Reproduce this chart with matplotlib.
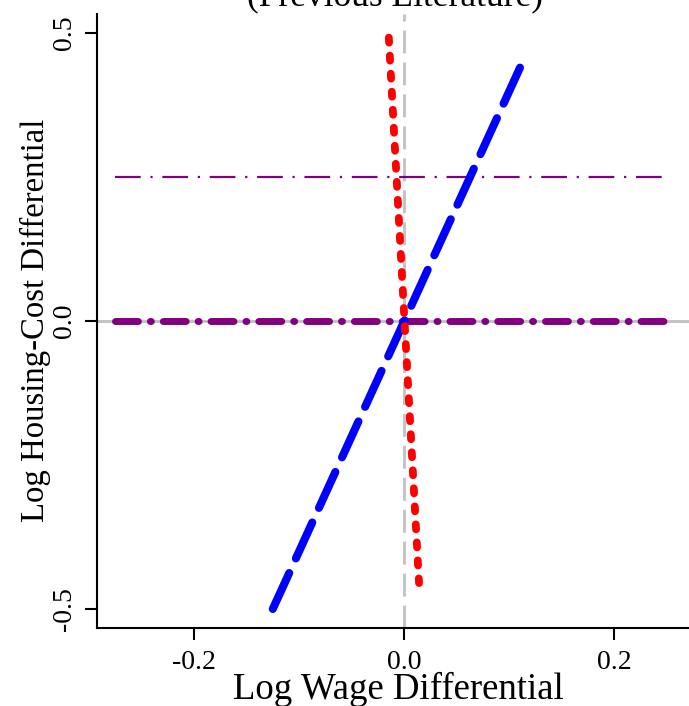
import matplotlib
matplotlib.use("Agg")
import matplotlib.pyplot as plt

plt.rcParams['font.family'] = ['Liberation Serif', 'DejaVu Serif']
plt.rcParams['lines.scale_dashes'] = False

# line end points
blue_x = [-0.125, 0.115]
blue_y = [-0.5, 0.458]
red_x = [-0.0145, 0.0143]
red_y = [0.492, -0.455]
purple_x = [-0.275, 0.25]
purple_y = [0.0, 0.0]
purple_thin_x = [-0.275, 0.25]
purple_thin_y = [0.25, 0.25]

x_ticks = [-0.2, 0.0, 0.2]
x_labels = ['-0.2', '0.0', '0.2']
y_ticks = [-0.5, 0.0, 0.5]
y_labels = ['-0.5', '0.0', '0.5']

fig = plt.figure(figsize=(6.89, 7.06), dpi=100)
ax = fig.add_axes([97 / 689, 78 / 706, 1 - 97 / 689, 614 / 706])
ax.set_xlim(-0.2924, 0.2714)
ax.set_ylim(-0.533, 0.533)

# reference lines
ax.axhline(0, color='#c4c4c4', lw=2.2, zorder=1)
ax.axvline(0, color='#c4c4c4', lw=2.2, linestyle=(0, (16.5, 6.5)), zorder=1)

ax.plot(purple_thin_x, purple_thin_y, color='#800080', lw=1.6,
        linestyle=(0, (18.5, 7.0, 1.6, 7.0)), dash_capstyle='butt', zorder=2)
ax.plot(purple_x, purple_y, color='#800080', lw=5.0,
        linestyle=(0, (16.5, 8.6, 0.7, 8.6)), dash_capstyle='round', zorder=2)
ax.plot(blue_x, blue_y, color='#0000ff', lw=5.8,
        linestyle=(0, (28.5, 11.5)), dash_capstyle='round', zorder=3)
ax.plot(red_x, red_y, color='#ff0000', lw=5.6,
        linestyle=(0, (3.6, 9.4)), dash_capstyle='round', zorder=4)

for s in ['top', 'right']:
    ax.spines[s].set_visible(False)
for s in ['left', 'bottom']:
    ax.spines[s].set_linewidth(1.5)

ax.set_xticks(x_ticks)
ax.set_xticklabels(x_labels, fontsize=20)
ax.set_yticks(y_ticks)
ax.set_yticklabels(y_labels, fontsize=20, rotation=90, va='center')
ax.tick_params(length=8.6, width=1.5, pad=7)
ax.tick_params(axis='y', pad=6)

fig.text(0.574, 1 - 5 / 706, '(Previous Literature)', fontsize=25.5,
         ha='center', va='baseline')
fig.text(398 / 689, 1 - 699 / 706, 'Log Wage Differential', fontsize=26.5,
         ha='center', va='baseline')
fig.text(35 / 689, 1 - 320 / 706, 'Log Housing-Cost Differential', fontsize=23.6,
         rotation=90, ha='center', va='center')

fig.savefig('out.png', dpi=100)
